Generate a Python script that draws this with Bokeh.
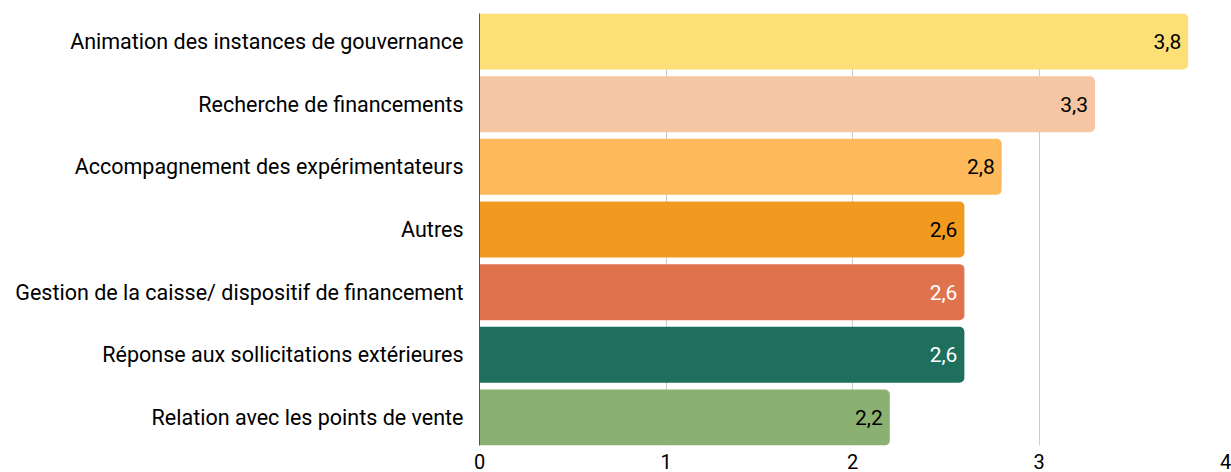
from bokeh.plotting import figure
from bokeh.models import ColumnDataSource, FixedTicker, Range1d, FactorRange
from bokeh.embed import file_html
from bokeh.resources import INLINE
from bokeh.core.properties import value

categories = [
    "Animation des instances de gouvernance",
    "Recherche de financements",
    "Accompagnement des expérimentateurs",
    "Autres",
    "Gestion de la caisse/ dispositif de financement",
    "Réponse aux sollicitations extérieures",
    "Relation avec les points de vente",
]
values = [3.8, 3.3, 2.8, 2.6, 2.6, 2.6, 2.2]
colors = ["#FCDF76", "#F5C5A4", "#FEB95B", "#F19A1F", "#DF734E", "#1F6F5F", "#8AB172"]
label_colors = ["#000000", "#000000", "#000000", "#000000", "#FFFFFF", "#FFFFFF", "#000000"]
x_ticks = [0, 1, 2, 3, 4]

labels = [f"{v:.1f}".replace(".", ",") for v in values]
source = ColumnDataSource(dict(cat=categories, val=values, color=colors,
                               lab=labels, lcol=label_colors))

bar_h = 0.894
yr = FactorRange(factors=list(reversed(categories)),
                 range_padding=-(1 - bar_h) / len(categories))

p = figure(y_range=yr, x_range=Range1d(0, 4),
           width=1231, height=472, output_backend="svg", toolbar_location=None,
           min_border_left=479, min_border_right=6, min_border_top=13,
           min_border_bottom=27)
p.outline_line_color = None

p.hbar(y="cat", right="val", left=0, height=bar_h, fill_color="color",
       line_color=None, border_radius=(0, 5, 5, 0), source=source)

p.text(x="val", y="cat", text="lab", text_color="lcol", x_offset=-7,
       text_align="right", text_baseline="middle",
       text_font=value("Roboto"), text_font_size="21px", source=source)

p.xaxis.ticker = FixedTicker(ticks=x_ticks)
p.xaxis.axis_line_color = None
p.xaxis.major_tick_line_color = None
p.xaxis.major_tick_out = 0
p.xaxis.minor_tick_line_color = None
p.xaxis.major_label_text_font = "Roboto"
p.xaxis.major_label_text_font_size = "20px"
p.xaxis.major_label_text_color = "#000000"
p.xaxis.major_label_standoff = 8

p.yaxis.axis_line_color = "#555555"
p.yaxis.axis_line_width = 1
p.yaxis.major_tick_line_color = None
p.yaxis.major_tick_out = 0
p.yaxis.minor_tick_line_color = None
p.yaxis.major_label_text_font = "Roboto"
p.yaxis.major_label_text_font_size = "21.5px"
p.yaxis.major_label_text_color = "#000000"
p.yaxis.major_label_standoff = 16

p.ygrid.grid_line_color = None
p.xgrid.grid_line_color = "#CCCCCC"
p.xgrid.grid_line_width = 1

open("out.html", "w").write(file_html(p, INLINE))
